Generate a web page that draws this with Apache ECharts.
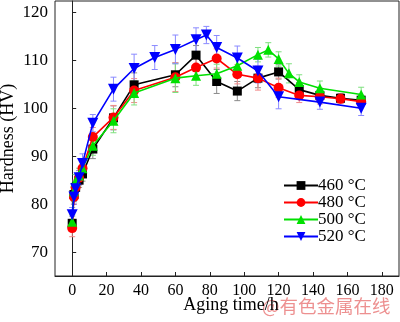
<!DOCTYPE html>
<html><head><meta charset="utf-8">
<script src="https://cdn.jsdelivr.net/npm/echarts@6/dist/echarts.min.js"></script>
<style>html,body{margin:0;padding:0;background:#fff}#c{width:400px;height:322px}</style>
</head><body><div id="c"></div>
<script>
var seriesNames = ['460 °C', '480 °C', '500 °C', '520 °C'];
var t460 = [0, 1, 2, 4, 6, 12, 24, 36, 60, 72, 84, 96, 108, 120, 132, 144, 156, 168];
var v460 = [76.0, 82.0, 83.5, 85.0, 86.3, 91.5, 98.0, 104.9, 107.0, 111.1, 105.6, 103.6, 106.3, 107.6, 103.9, 102.7, 102.1, 101.7];
var e460 = [1.5, 1.5, 1.5, 1.5, 1.5, 2.0, 2.5, 2.5, 2.5, 2.0, 2.5, 2.0, 2.0, 1.5, 1.5, 1.5, 1.0, 1.0];
var t480 = [0, 1, 2, 4, 6, 12, 24, 36, 60, 72, 84, 96, 108, 120, 132, 144, 156, 168];
var v480 = [75.0, 81.5, 83.5, 85.5, 87.5, 94.0, 98.1, 103.7, 106.5, 108.5, 110.4, 107.1, 106.3, 104.3, 102.7, 102.4, 102.0, 101.4];
var e480 = [1.8, 1.5, 1.5, 1.5, 1.5, 2.0, 2.5, 2.5, 3.0, 2.0, 2.0, 2.0, 2.5, 2.0, 1.5, 1.5, 1.0, 1.0];
var t500 = [0, 1, 2, 4, 6, 12, 24, 36, 60, 72, 84, 96, 108, 114, 120, 126, 132, 144, 168];
var v500 = [76.3, 82.7, 84.7, 86.0, 87.5, 92.2, 97.4, 103.2, 106.3, 106.8, 107.2, 108.9, 111.2, 112.2, 110.3, 107.3, 105.5, 104.2, 102.9];
var e500 = [1.5, 1.5, 1.5, 1.5, 1.5, 2.0, 2.5, 2.5, 3.0, 2.0, 2.0, 2.0, 1.5, 1.5, 1.5, 2.0, 1.5, 1.5, 1.5];
var t520 = [0, 1, 2, 4, 6, 12, 24, 36, 48, 60, 72, 78, 84, 96, 108, 120, 144, 168];
var v520 = [77.8, 81.5, 83.2, 85.5, 88.5, 96.9, 104.0, 108.3, 110.6, 112.3, 114.3, 115.3, 112.7, 110.5, 107.8, 102.4, 101.3, 100.0];
var e520 = [1.5, 1.5, 1.5, 1.5, 2.0, 1.8, 2.5, 3.0, 2.5, 3.0, 2.5, 1.8, 2.5, 2.5, 2.5, 2.5, 1.5, 1.5];
var xTicks = [0, 20, 40, 60, 80, 100, 120, 140, 160, 180];
var yTicks = [70, 80, 90, 100, 110, 120];

var times = [t460, t480, t500, t520];
var vals = [v460, v480, v500, v520];
var errs = [e460, e480, e500, e520];
var colors = ['#000000', '#ff0000', '#00e000', '#0000ff'];
var errColors = ['#8a8a8a', '#f28a8a', '#7fe07f', '#8a8aff'];
var symbols = ['rect', 'circle', 'triangle', 'triangle'];
var rotates = [0, 0, 0, 180];
var sizes = [9, 10, 10, 11];

var serif = 'Liberation Serif';
var series = [];
for (var i = 0; i < 4; i++) {
  (function (i) {
    var ed = times[i].map(function (t, k) { return [t, vals[i][k] - errs[i][k], vals[i][k] + errs[i][k]]; });
    series.push({
      type: 'custom', name: 'err' + i, data: ed, z: 1, silent: true,
      renderItem: function (params, api) {
        var x = api.value(0), lo = api.value(1), hi = api.value(2);
        var p1 = api.coord([x, lo]), p2 = api.coord([x, hi]);
        var st = { stroke: errColors[i], lineWidth: 1 };
        return { type: 'group', children: [
          { type: 'line', shape: { x1: p1[0], y1: p1[1], x2: p2[0], y2: p2[1] }, style: st },
          { type: 'line', shape: { x1: p1[0] - 3, y1: p1[1], x2: p1[0] + 3, y2: p1[1] }, style: st },
          { type: 'line', shape: { x1: p2[0] - 3, y1: p2[1], x2: p2[0] + 3, y2: p2[1] }, style: st }
        ] };
      }
    });
  })(i);
}
for (var i = 0; i < 4; i++) {
  series.push({
    type: 'line', name: seriesNames[i], z: 3 + i,
    data: times[i].map(function (t, k) { return [t, vals[i][k]]; }),
    symbol: symbols[i], symbolSize: sizes[i], symbolRotate: rotates[i],
    lineStyle: { color: colors[i], width: 1.6 },
    itemStyle: { color: colors[i], borderWidth: 0 },
    showSymbol: true
  });
}

var chart = echarts.init(document.getElementById('c'), null, { renderer: 'canvas' });
chart.setOption({
  animation: false,
  grid: { left: 55, right: 1, top: 1, bottom: 46, show: true, borderColor: '#222', borderWidth: 1, containLabel: false, outerBoundsMode: 'none' },
  legend: {
    data: seriesNames, orient: 'vertical', left: 278, top: 172,
    itemWidth: 34, itemHeight: 11, itemGap: 0,
    textStyle: { fontFamily: serif, fontSize: 17, color: '#000', padding: [0, 0, 0, -5] }
  },
  xAxis: {
    type: 'value', min: -10, max: 190,
    name: 'Aging time/h', nameLocation: 'middle', nameGap: 20, nameMoveOverlap: false,
    nameTextStyle: { fontFamily: serif, fontSize: 18, color: '#000', padding: [0, 0, 0, 8] },
    axisLine: { lineStyle: { color: '#222', width: 1 } },
    axisTick: { inside: true, length: 4, customValues: xTicks, lineStyle: { color: '#222' } },
    axisLabel: { customValues: xTicks, fontFamily: serif, fontSize: 16, color: '#000', margin: 7 },
    splitLine: { show: false }
  },
  yAxis: {
    type: 'value', min: 65, max: 122.4,
    name: 'Hardness (HV)', nameLocation: 'middle', nameGap: 38, nameMoveOverlap: false,
    nameTextStyle: { fontFamily: serif, fontSize: 18, color: '#000' },
    axisLine: { show: true, lineStyle: { color: '#222', width: 1 } },
    axisTick: { show: true, inside: true, length: 4, customValues: yTicks, lineStyle: { color: '#222' } },
    axisLabel: { customValues: yTicks, fontFamily: serif, fontSize: 17, color: '#000', margin: 7 },
    splitLine: { show: false }
  },
  graphic: [{
    type: 'text', left: 262, top: 297,
    style: { text: '@有色金属在线', fontFamily: 'Noto Sans CJK SC', fontSize: 18.5, fill: 'rgba(225,70,70,0.6)' }
  }],
  series: series
});
</script></body></html>
